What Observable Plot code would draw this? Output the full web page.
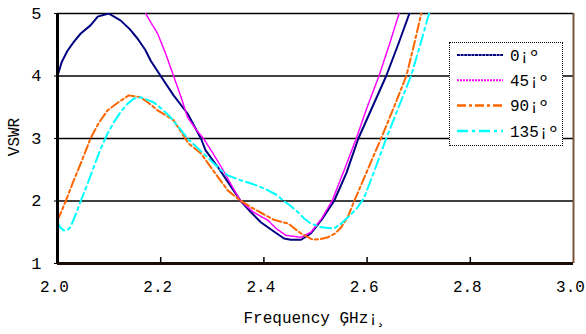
<!DOCTYPE html>
<html><head><meta charset="utf-8">
<script src="https://cdn.jsdelivr.net/npm/d3@7"></script>
<script src="https://cdn.jsdelivr.net/npm/@observablehq/plot@0.6"></script>
<style>
body{margin:0;background:#fff;}
#wrap{position:relative;width:586px;height:334px;font-family:"Liberation Mono",monospace;}
#legend{position:absolute;left:449px;top:42px;width:112px;height:102px;border:1.5px dotted #000;background:#fff;}
#ylab{position:absolute;left:15px;top:137px;transform:translate(-50%,-50%) rotate(-90deg);font-size:16px;color:#000;white-space:nowrap;}
</style>
</head><body><div id="wrap"></div>
<script>
const seriesNames = ["0¡º", "45¡º", "90¡º", "135¡º"];
const seriesColors = ["#000080", "#ff00ff", "#ff6600", "#00ffff"];
const freq0 = [2.000,2.008,2.019,2.032,2.045,2.064,2.078,2.099,2.122,2.140,2.155,2.170,2.181,2.200,2.225,2.252,2.278,2.287,2.311,2.333,2.355,2.375,2.394,2.418,2.439,2.452,2.472,2.491,2.512,2.536,2.560,2.583,2.610,2.637,2.660,2.682];
const vswr0 = [4.00,4.22,4.40,4.55,4.68,4.81,4.95,5.00,4.89,4.75,4.60,4.42,4.24,4.00,3.69,3.40,3.00,2.81,2.54,2.27,2.00,1.82,1.66,1.52,1.40,1.38,1.38,1.48,1.70,2.00,2.45,3.00,3.50,4.00,4.50,5.00];
const freq45 = [2.171,2.180,2.194,2.210,2.225,2.240,2.252,2.268,2.283,2.300,2.317,2.336,2.355,2.380,2.408,2.425,2.443,2.472,2.491,2.512,2.532,2.555,2.579,2.600,2.623,2.643,2.662];
const vswr45 = [5.00,4.87,4.68,4.35,4.00,3.65,3.34,3.15,3.00,2.78,2.55,2.27,2.00,1.82,1.69,1.55,1.45,1.42,1.50,1.72,2.00,2.48,3.00,3.50,4.00,4.50,5.00];
const freq90 = [2.000,2.008,2.016,2.030,2.045,2.064,2.080,2.097,2.118,2.138,2.161,2.178,2.194,2.210,2.225,2.240,2.254,2.278,2.305,2.330,2.352,2.375,2.397,2.419,2.447,2.472,2.495,2.510,2.524,2.538,2.550,2.563,2.575,2.600,2.627,2.652,2.676,2.691,2.705];
const vswr90 = [1.69,1.84,2.00,2.30,2.60,3.00,3.25,3.45,3.58,3.69,3.66,3.56,3.45,3.37,3.29,3.10,2.92,2.76,2.45,2.17,2.02,1.90,1.80,1.70,1.64,1.48,1.38,1.39,1.42,1.48,1.58,1.75,2.00,2.48,3.00,3.50,4.00,4.50,5.00];
const freq135 = [2.000,2.006,2.012,2.018,2.025,2.035,2.045,2.058,2.070,2.083,2.097,2.110,2.122,2.135,2.148,2.161,2.186,2.203,2.219,2.236,2.252,2.275,2.297,2.313,2.330,2.352,2.375,2.392,2.408,2.424,2.439,2.452,2.466,2.478,2.491,2.511,2.536,2.550,2.563,2.580,2.594,2.615,2.637,2.661,2.685,2.703,2.720];
const vswr135 = [1.66,1.57,1.53,1.53,1.58,1.78,2.00,2.27,2.54,2.82,3.08,3.27,3.42,3.55,3.64,3.66,3.58,3.47,3.34,3.17,3.00,2.82,2.65,2.52,2.41,2.34,2.28,2.23,2.17,2.10,2.00,1.92,1.82,1.72,1.64,1.58,1.56,1.64,1.74,1.88,2.05,2.50,3.00,3.50,4.00,4.50,5.00];
const xTicks = [2.0, 2.2, 2.4, 2.6, 2.8, 3.0];
const yTicks = [1, 2, 3, 4, 5];
const xLabel = "Frequency ĢHz¡¸";
const yLabel = "VSWR";

const freqs = [freq0, freq45, freq90, freq135];
const vals = [vswr0, vswr45, vswr90, vswr135];
const dashes = [null, "2,1", "9,3,3,3", "11,4,3,4"];
const widths = [2, 1.5, 2, 2];
const rows = freqs.map((fs, i) => fs.map((f, j) => ({series: seriesNames[i], f, v: vals[i][j]})));

const font = '"Liberation Mono", monospace';
const chart = Plot.plot({
  width: 586, height: 334,
  marginLeft: 57, marginRight: 13, marginTop: 13, marginBottom: 71,
  style: {fontFamily: font, fontSize: "16px", color: "#000", background: "#fff"},
  x: {domain: [2.0, 3.0]},
  y: {domain: [1, 5]},
  marks: [
    Plot.ruleY(yTicks.slice(1), {stroke: "#000", strokeWidth: 1.5}),
    ...rows.map((r, i) => Plot.line(r, {x: "f", y: "v", stroke: seriesColors[i], strokeWidth: widths[i], strokeDasharray: dashes[i], clip: true})),
    Plot.ruleX([xTicks[xTicks.length - 1]], {stroke: "#7b5535", strokeWidth: 2}),
    Plot.ruleX([xTicks[0]], {stroke: "#000", strokeWidth: 3}),
    Plot.ruleY([yTicks[0]], {stroke: "#1a0c04", strokeWidth: 3}),
    Plot.tickX(xTicks.slice(1, -1), {x: d => d, stroke: "#000", strokeWidth: 1.5, insetTop: 244}),
    Plot.axisX({ticks: xTicks, tickSize: 0, tickPadding: 17, dx: -3, tickFormat: d => d.toFixed(1), label: null, fontSize: 16}),
    Plot.axisY({ticks: yTicks, tickSize: 3, tickPadding: 13, tickFormat: d => String(d), label: null, fontSize: 17}),
    Plot.text([xLabel], {frameAnchor: "bottom", dy: 59, fontSize: 16, fill: "#000"})
  ]
});
const wrap = document.getElementById("wrap");
wrap.appendChild(chart);

const ylab = document.createElement("div");
ylab.id = "ylab";
ylab.textContent = yLabel;
wrap.appendChild(ylab);

// Legend
const legend = document.createElement("div");
legend.id = "legend";
wrap.appendChild(legend);
const lsvg = d3.select(legend).append("svg").attr("width", 112).attr("height", 102);
const legendDash = ["3,0.6", "2,1", "9,3,3,3", "11,4,3,4"];
seriesNames.forEach((name, i) => {
  const y = 12 + i * 25.3;
  lsvg.append("line").attr("x1", 7).attr("x2", 53).attr("y1", y).attr("y2", y)
    .attr("stroke", seriesColors[i]).attr("stroke-width", i >= 2 ? 2.5 : 2).attr("stroke-dasharray", legendDash[i]);
  lsvg.append("text").attr("x", 60).attr("y", y).attr("dy", "0.35em")
    .attr("font-family", font).attr("font-size", 16).attr("fill", "#000").text(name);
});
</script>
</body></html>
